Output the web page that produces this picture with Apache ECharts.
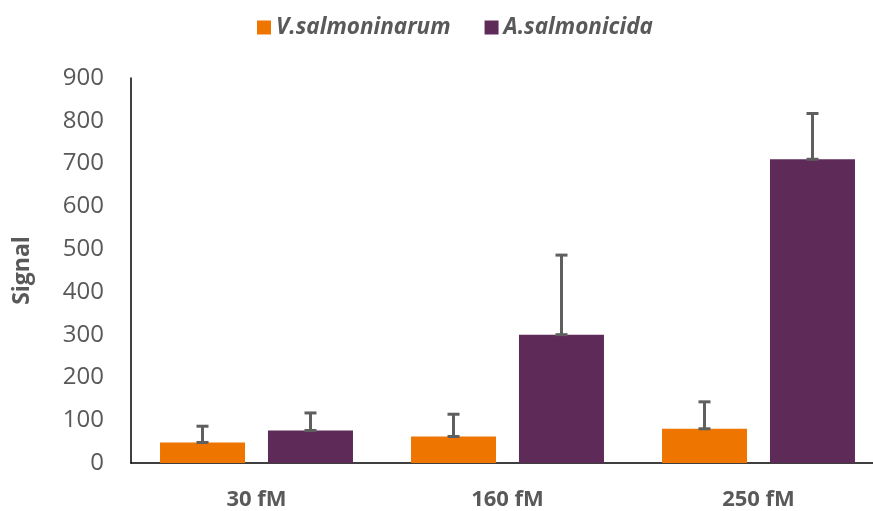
<!DOCTYPE html>
<html><head><meta charset="utf-8">
<script src="https://cdn.jsdelivr.net/npm/echarts@6/dist/echarts.min.js"></script>
<style>html,body{margin:0;padding:0;background:#fff;overflow:hidden}#c{width:884px;height:511px}</style>
</head><body><div id="c"></div>
<script>
const categories = ['30 fM', '160 fM', '250 fM'];
const seriesNames = ['V.salmoninarum', 'A.salmonicida'];
const vSalmoninarum = [48, 62, 80];
const aSalmonicida = [76, 300, 710];
const vSalmoninarumErr = [38, 52, 63];
const aSalmonicidaErr = [41, 186, 107];
const yTicks = [0, 100, 200, 300, 400, 500, 600, 700, 800, 900];

const colors = ['#EE7500', '#5E2A58'];
const chart = echarts.init(document.getElementById('c'));

function errSeries(vals, errs, offset) {
  return {
    type: 'custom',
    silent: true,
    z: 10,
    data: vals.map((v, i) => [i, v, v + errs[i]]),
    renderItem: function (params, api) {
      const lo = api.coord([api.value(0), api.value(1)]);
      const hi = api.coord([api.value(0), api.value(2)]);
      const x = lo[0] + offset;
      const cw = 6;
      const st = { stroke: '#5f5f5f', lineWidth: 3 };
      return {
        type: 'group',
        children: [
          { type: 'line', shape: { x1: x, y1: lo[1], x2: x, y2: hi[1] }, style: st },
          { type: 'line', shape: { x1: x - cw, y1: hi[1], x2: x + cw, y2: hi[1] }, style: st },
          { type: 'line', shape: { x1: x - cw, y1: lo[1], x2: x + cw, y2: lo[1] }, style: st }
        ]
      };
    }
  };
}

chart.setOption({
  animation: false,
  textStyle: { fontFamily: 'Open Sans' },
  legend: {
    data: seriesNames,
    top: 11, left: 252,
    itemWidth: 14, itemHeight: 14, itemGap: 34,
    icon: 'rect',
    textStyle: { fontFamily: 'Open Sans', fontSize: 22.5, fontWeight: 'bold', fontStyle: 'italic', color: '#595959' }
  },
  grid: { left: 131, top: 78, right: 0, bottom: 48 },
  xAxis: {
    type: 'category', data: categories,
    axisLine: { lineStyle: { color: '#000', width: 1.5 } },
    axisTick: { show: false },
    axisLabel: { margin: 26, fontSize: 22, fontWeight: 'bold', color: '#595959', fontFamily: 'Open Sans' }
  },
  yAxis: {
    type: 'value', min: yTicks[0], max: yTicks[yTicks.length - 1], interval: 100,
    name: 'Signal', nameLocation: 'middle', nameGap: 97, nameRotate: 90,
    nameTextStyle: { fontSize: 23, fontWeight: 'bold', color: '#595959', fontFamily: 'Open Sans' },
    axisLine: { show: true, lineStyle: { color: '#000', width: 1.5 } },
    axisTick: { show: false },
    splitLine: { show: false },
    axisLabel: { margin: 27, fontSize: 24, color: '#595959', fontFamily: 'Open Sans' }
  },
  series: [
    { name: seriesNames[0], type: 'bar', data: vSalmoninarum, barWidth: 85, barGap: '27%', itemStyle: { color: colors[0] } },
    { name: seriesNames[1], type: 'bar', data: aSalmonicida, barWidth: 85, barGap: '27%', itemStyle: { color: colors[1] } },
    errSeries(vSalmoninarum, vSalmoninarumErr, -54),
    errSeries(aSalmonicida, aSalmonicidaErr, 54)
  ]
});
</script></body></html>
